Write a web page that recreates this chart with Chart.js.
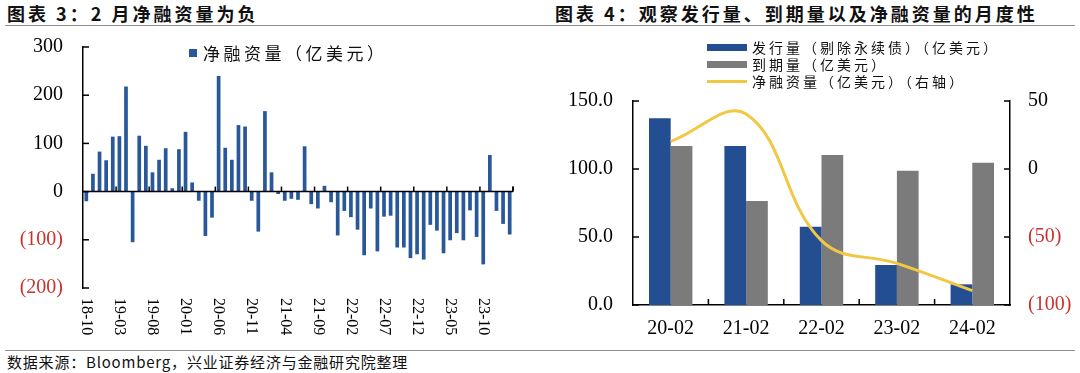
<!DOCTYPE html>
<html>
<head>
<meta charset="utf-8">
<script src="https://cdn.jsdelivr.net/npm/chart.js@4"></script>
<style>
  body { margin: 0; background: #fff; }
  #page { position: relative; width: 1080px; height: 373px; overflow: hidden; background: #fff; }
  .title { position: absolute; top: 4px; font: 700 18px/1 "Noto Sans CJK SC"; letter-spacing: 3px; color: #111; white-space: nowrap; }
  .rule { position: absolute; left: 5px; right: 5px; height: 0; border-top: 1px solid #8c8c8c; }
  .src { position: absolute; left: 7px; top: 354px; font: 15px/1 "Noto Sans CJK SC"; letter-spacing: 0.8px; color: #111; white-space: nowrap; }
  .lg { position: absolute; display: flex; align-items: center; font-family: "Noto Sans CJK SC"; color: #111; white-space: nowrap; }
  canvas { position: absolute; }
</style>
</head>
<body>
<div id="page">
  <div class="title" style="left:7px">图表 3：2 月净融资量为负</div>
  <div class="title" style="left:555px">图表 4：观察发行量、到期量以及净融资量的月度性</div>
  <div class="rule" style="top:25px"></div>

  <canvas id="netChart" width="540" height="315" style="left:0;top:30px"></canvas>
  <canvas id="yearChart" width="535" height="315" style="left:545px;top:30px"></canvas>

  <div class="lg" style="left:189px;top:40px;font-size:17px;letter-spacing:3.5px">
    <span style="display:inline-block;width:8px;height:8px;background:#28579a;margin-right:6px"></span>净融资量（亿美元）
  </div>
  <div class="lg" style="left:707px;top:37px;font-size:14px;letter-spacing:3px">
    <span style="display:inline-block;width:40px;height:7px;background:#234e92;margin-right:5px"></span>发行量（剔除永续债）（亿美元）
  </div>
  <div class="lg" style="left:707px;top:54px;font-size:14px;letter-spacing:3px">
    <span style="display:inline-block;width:40px;height:7px;background:#7b7b7b;margin-right:5px"></span>到期量（亿美元）
  </div>
  <div class="lg" style="left:707px;top:71px;font-size:14px;letter-spacing:3px">
    <span style="display:inline-block;width:40px;height:3px;background:#f2c744;margin-right:5px"></span>净融资量（亿美元）（右轴）
  </div>

  <div class="rule" style="top:350px"></div>
  <div class="src">数据来源：Bloomberg，兴业证券经济与金融研究院整理</div>
</div>

<script>
// monthly net financing, 18-10 .. 24-02
const monthLabels = [
  '18-10', '18-11', '18-12', '19-01', '19-02', '19-03', '19-04', '19-05', '19-06', '19-07', '19-08', '19-09',
  '19-10', '19-11', '19-12', '20-01', '20-02', '20-03', '20-04', '20-05', '20-06', '20-07', '20-08', '20-09',
  '20-10', '20-11', '20-12', '21-01', '21-02', '21-03', '21-04', '21-05', '21-06', '21-07', '21-08', '21-09',
  '21-10', '21-11', '21-12', '22-01', '22-02', '22-03', '22-04', '22-05', '22-06', '22-07', '22-08', '22-09',
  '22-10', '22-11', '22-12', '23-01', '23-02', '23-03', '23-04', '23-05', '23-06', '23-07', '23-08', '23-09',
  '23-10', '23-11', '23-12', '24-01', '24-02'
];
const netMonthly = [
  -20, 37, 83, 65, 114, 115, 218, -105, 116, 95, 40, 66,
  90, 7, 88, 124, 19, -19, -92, -54, 240, 91, 66, 138,
  135, -19, -83, 167, 40, -5, -19, -15, -17, 94, -26, -35,
  12, -22, -91, -40, -53, -79, -132, -35, -124, -52, -50, -116,
  -116, -138, -130, -141, -69, -81, -128, -101, -86, -101, -39, -94,
  -151, 76, -40, -67, -89
];
const netTicks = { min: -200, max: 300, step: 100 };

// February of each year
const yearLabels = ['20-02', '21-02', '22-02', '23-02', '24-02'];
const issuance = [137.3, 117, 57.6, 29.4, 15.2];
const maturity = [117, 76.5, 110.3, 98.8, 104.6];
const netFeb = [20.3, 40.5, -52.7, -69.4, -89.4];

const RED = '#c8322d';
const BLUE = '#234e92';
const GREY = '#7b7b7b';
const GOLD = '#f2c744';

Chart.defaults.font.family = '"Liberation Serif"';
Chart.defaults.color = '#000';

const paren = v => (v < 0 ? '(' + Math.abs(v) + ')' : String(v));
const negRed = c => (c.tick && c.tick.value < 0 ? RED : '#000');

// fixed box sizes so the plot areas land where the reference has them
const fixW = w => s => { s.width = w; s.paddingTop = 0; s.paddingBottom = 0; };
const fixH = h => s => { s.height = h; s.paddingLeft = 0; s.paddingRight = 0; };

function line(ctx, x1, y1, x2, y2) {
  ctx.beginPath();
  ctx.moveTo(x1, y1);
  ctx.lineTo(x2, y2);
  ctx.stroke();
}

// zero line, inward ticks and top-to-bottom month labels
const netMarks = {
  id: 'netMarks',
  afterDatasetsDraw(chart) {
    const { ctx, chartArea: a, scales: { x, y } } = chart;
    const cw = x.getPixelForValue(1) - x.getPixelForValue(0);
    const y0 = y.getPixelForValue(0);
    ctx.save();
    ctx.strokeStyle = '#000';
    ctx.lineWidth = 1.5;
    line(ctx, a.left, y0, a.right, y0);
    for (let i = 5; i <= monthLabels.length; i += 5) {
      const bx = x.getPixelForValue(i) - cw / 2;
      line(ctx, bx, y0 - 5, bx, y0);
    }
    line(ctx, a.right, y0 - 5, a.right, y0);
    y.ticks.forEach(t => {
      const py = y.getPixelForValue(t.value);
      line(ctx, a.left, py, a.left + 6, py);
    });
    ctx.fillStyle = '#000';
    ctx.font = '16px "Liberation Serif"';
    ctx.textAlign = 'left';
    ctx.textBaseline = 'middle';
    for (let i = 0; i < monthLabels.length; i += 5) {
      ctx.save();
      ctx.translate(x.getPixelForValue(i), a.bottom + 10);
      ctx.rotate(Math.PI / 2);
      ctx.fillText(monthLabels[i], 0, 0);
      ctx.restore();
    }
    ctx.restore();
  }
};

new Chart(document.getElementById('netChart'), {
  type: 'bar',
  data: {
    labels: monthLabels,
    datasets: [{
      label: '净融资量（亿美元）',
      data: netMonthly,
      backgroundColor: '#28579a',
      categoryPercentage: 1,
      barPercentage: 0.56
    }]
  },
  options: {
    responsive: false,
    animation: false,
    layout: { padding: { top: 17, right: 27, left: 0, bottom: 0 } },
    plugins: { legend: { display: false }, tooltip: { enabled: false } },
    scales: {
      x: {
        ticks: { display: false },
        grid: { display: false, drawTicks: false },
        border: { display: false },
        afterFit: fixH(57)
      },
      y: {
        min: netTicks.min,
        max: netTicks.max,
        ticks: { stepSize: netTicks.step, padding: 20, font: { size: 20 }, color: negRed, callback: paren },
        grid: { display: false, drawTicks: false },
        border: { display: true, color: '#000', width: 1.5 },
        afterFit: fixW(83)
      }
    }
  },
  plugins: [netMarks]
});

const yearMarks = {
  id: 'yearMarks',
  afterDatasetsDraw(chart) {
    const { ctx, chartArea: a, scales: { x, y, y1 } } = chart;
    const cw = x.getPixelForValue(1) - x.getPixelForValue(0);
    ctx.save();
    ctx.strokeStyle = '#000';
    ctx.lineWidth = 1.5;
    for (let i = 1; i < yearLabels.length; i++) {
      const bx = x.getPixelForValue(i) - cw / 2;
      line(ctx, bx, a.bottom - 6, bx, a.bottom);
    }
    y.ticks.forEach(t => {
      const py = y.getPixelForValue(t.value);
      line(ctx, a.left, py, a.left + 6, py);
    });
    y1.ticks.forEach(t => {
      const py = y1.getPixelForValue(t.value);
      line(ctx, a.right - 6, py, a.right, py);
    });
    ctx.restore();
  }
};

new Chart(document.getElementById('yearChart'), {
  data: {
    labels: yearLabels,
    datasets: [
      {
        type: 'line',
        label: '净融资量（亿美元）（右轴）',
        data: netFeb,
        yAxisID: 'y1',
        borderColor: GOLD,
        borderWidth: 3,
        pointRadius: 0,
        tension: 0.4,
        order: 0
      },
      {
        type: 'bar',
        label: '发行量（剔除永续债）（亿美元）',
        data: issuance,
        backgroundColor: BLUE,
        categoryPercentage: 0.576,
        barPercentage: 1,
        order: 1
      },
      {
        type: 'bar',
        label: '到期量（亿美元）',
        data: maturity,
        backgroundColor: GREY,
        categoryPercentage: 0.576,
        barPercentage: 1,
        order: 1
      }
    ]
  },
  options: {
    responsive: false,
    animation: false,
    layout: { padding: { top: 71, right: 0, left: 0, bottom: 0 } },
    plugins: { legend: { display: false }, tooltip: { enabled: false } },
    scales: {
      x: {
        ticks: { padding: 12, font: { size: 20 } },
        grid: { display: false, drawTicks: false },
        border: { display: true, color: '#000', width: 1.5 },
        afterFit: fixH(40)
      },
      y: {
        position: 'left',
        min: 0,
        max: 150,
        ticks: { stepSize: 50, padding: 20, font: { size: 20 }, callback: v => v.toFixed(1) },
        grid: { display: false, drawTicks: false },
        border: { display: true, color: '#000', width: 1.5 },
        afterFit: fixW(88)
      },
      y1: {
        position: 'right',
        min: -100,
        max: 50,
        ticks: { stepSize: 50, padding: 18, font: { size: 20 }, color: negRed, callback: paren },
        grid: { display: false, drawTicks: false },
        border: { display: true, color: '#000', width: 1.5 },
        afterFit: fixW(70)
      }
    }
  },
  plugins: [yearMarks]
});
</script>
</body>
</html>
